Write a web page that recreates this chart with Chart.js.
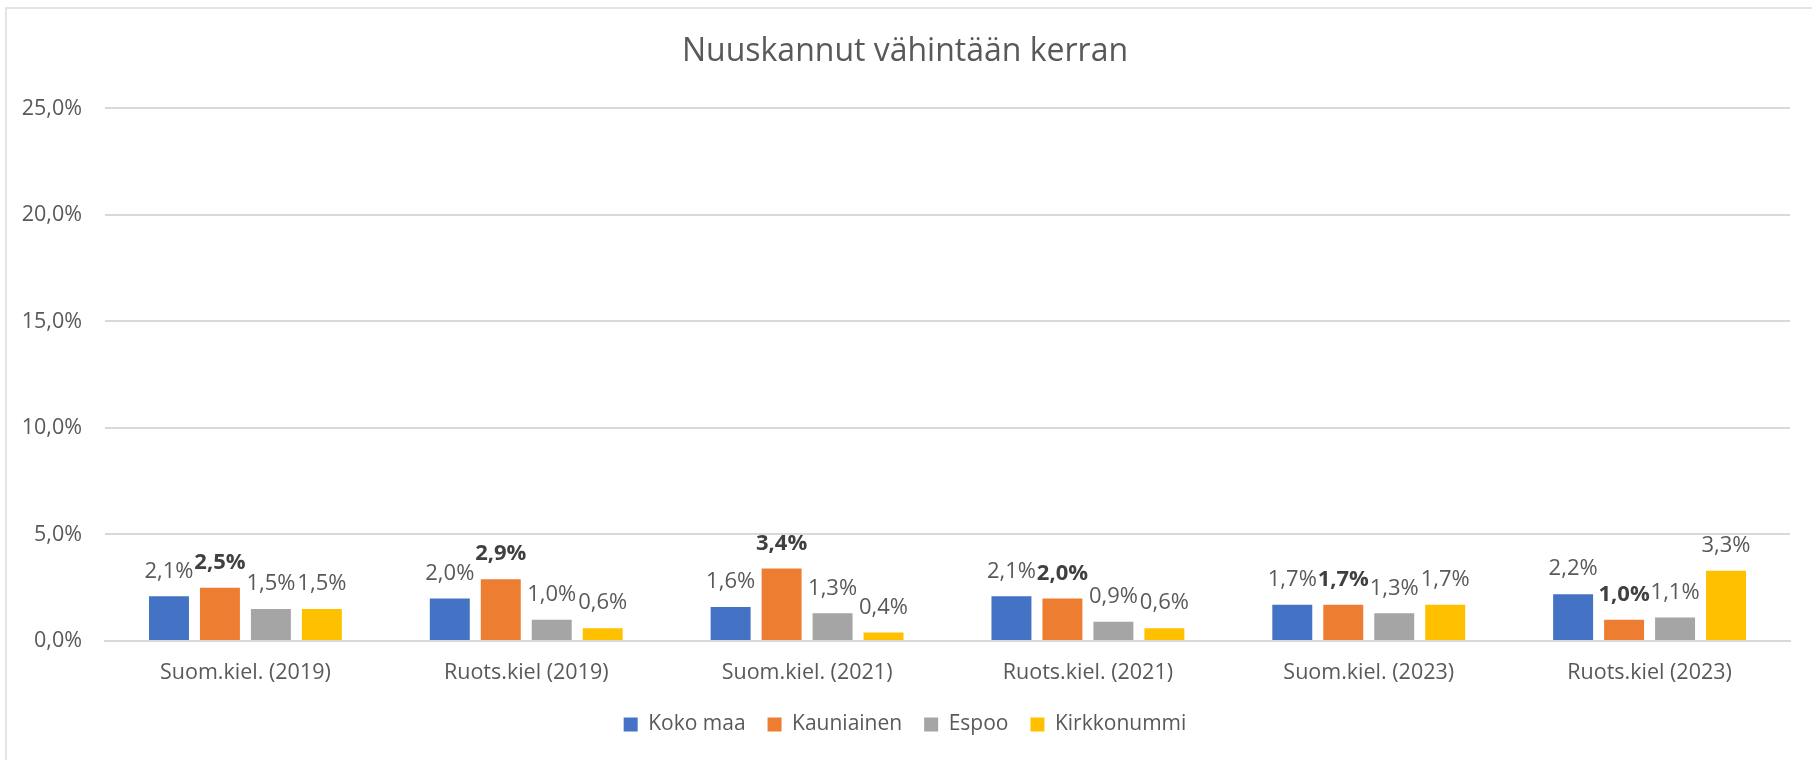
<!DOCTYPE html>
<html lang="fi">
<head>
<meta charset="utf-8">
<title>Nuuskannut vähintään kerran</title>
<script src="https://cdn.jsdelivr.net/npm/chart.js@4/dist/chart.umd.min.js"></script>
<style>
  html, body { margin: 0; padding: 0; background: #ffffff; }
  #wrap { width: 1812px; height: 760px; position: relative; }
</style>
</head>
<body>
<div id="wrap"><canvas id="snusChart"></canvas></div>
<script>
const categories = ['Suom.kiel. (2019)', 'Ruots.kiel (2019)', 'Suom.kiel. (2021)', 'Ruots.kiel. (2021)', 'Suom.kiel. (2023)', 'Ruots.kiel (2023)'];
const kokoMaa = [2.1, 2.0, 1.6, 2.1, 1.7, 2.2];
const kauniainen = [2.5, 2.9, 3.4, 2.0, 1.7, 1.0];
const espoo = [1.5, 1.0, 1.3, 0.9, 1.3, 1.1];
const kirkkonummi = [1.5, 0.6, 0.4, 0.6, 1.7, 3.3];
const yTicks = [0, 5, 10, 15, 20, 25];

const textColor = '#595959';
const fontFamily = '"Open Sans", "Noto Sans", sans-serif';

function pct(v) {
  return v.toFixed(1).replace('.', ',') + '%';
}

// light frame along the top and left edge
const framePlugin = {
  id: 'frame',
  beforeDraw(chart) {
    const ctx = chart.ctx;
    ctx.save();
    ctx.fillStyle = '#ffffff';
    ctx.fillRect(0, 0, chart.width, chart.height);
    ctx.strokeStyle = '#e4e4e4';
    ctx.lineWidth = 2;
    ctx.beginPath();
    ctx.moveTo(6, chart.height);
    ctx.lineTo(6, 8);
    ctx.lineTo(chart.width, 8);
    ctx.stroke();
    ctx.restore();
  }
};

// value labels above each bar, Kauniainen in bold
const valueLabels = {
  id: 'valueLabels',
  afterDatasetsDraw(chart) {
    const ctx = chart.ctx;
    ctx.save();
    ctx.textAlign = 'center';
    ctx.textBaseline = 'middle';
    chart.data.datasets.forEach((ds, i) => {
      const meta = chart.getDatasetMeta(i);
      ctx.font = (ds.label === 'Kauniainen' ? 'bold ' : '') + '22px ' + fontFamily;
      ctx.fillStyle = ds.label === 'Kauniainen' ? '#404040' : textColor;
      meta.data.forEach((bar, j) => {
        ctx.fillText(pct(ds.data[j]), bar.x, bar.y - 25);
      });
    });
    ctx.restore();
  }
};

const chart = new Chart(document.getElementById('snusChart'), {
  type: 'bar',
  data: {
    labels: categories,
    datasets: [
      { label: 'Koko maa', data: kokoMaa, backgroundColor: '#4472C4' },
      { label: 'Kauniainen', data: kauniainen, backgroundColor: '#ED7D31' },
      { label: 'Espoo', data: espoo, backgroundColor: '#A5A5A5' },
      { label: 'Kirkkonummi', data: kirkkonummi, backgroundColor: '#FFC000' }
    ]
  },
  options: {
    responsive: true,
    maintainAspectRatio: false,
    animation: false,
    devicePixelRatio: 1,
    layout: { padding: { top: 0, left: 20, right: 22, bottom: 15 } },
    datasets: {
      bar: { categoryPercentage: 0.726, barPercentage: 0.784 }
    },
    plugins: {
      title: {
        display: true,
        text: 'Nuuskannut vähintään kerran',
        color: textColor,
        font: { family: fontFamily, size: 32, weight: 'normal' },
        padding: { top: 33, bottom: 37 }
      },
      legend: {
        position: 'bottom',
        labels: {
          color: textColor,
          font: { family: fontFamily, size: 21 },
          boxWidth: 14,
          boxHeight: 14,
          padding: 22
        }
      },
      tooltip: { enabled: false }
    },
    scales: {
      x: {
        grid: { display: false, drawTicks: false },
        border: { display: true, color: '#d9d9d9', width: 2 },
        ticks: { color: textColor, font: { family: fontFamily, size: 21.5 }, padding: 19 },
        afterFit(scale) { scale.height = 51; }
      },
      y: {
        min: 0,
        max: 25,
        border: { display: false },
        grid: { color: '#d9d9d9', lineWidth: 2, drawTicks: false },
        afterBuildTicks(scale) { scale.ticks = yTicks.map(v => ({ value: v })); },
        afterFit(scale) { scale.width = 85; },
        ticks: {
          color: textColor,
          font: { family: fontFamily, size: 21.5 },
          padding: 23,
          callback: v => pct(v)
        }
      }
    }
  },
  plugins: [framePlugin, valueLabels]
});
</script>
</body>
</html>
